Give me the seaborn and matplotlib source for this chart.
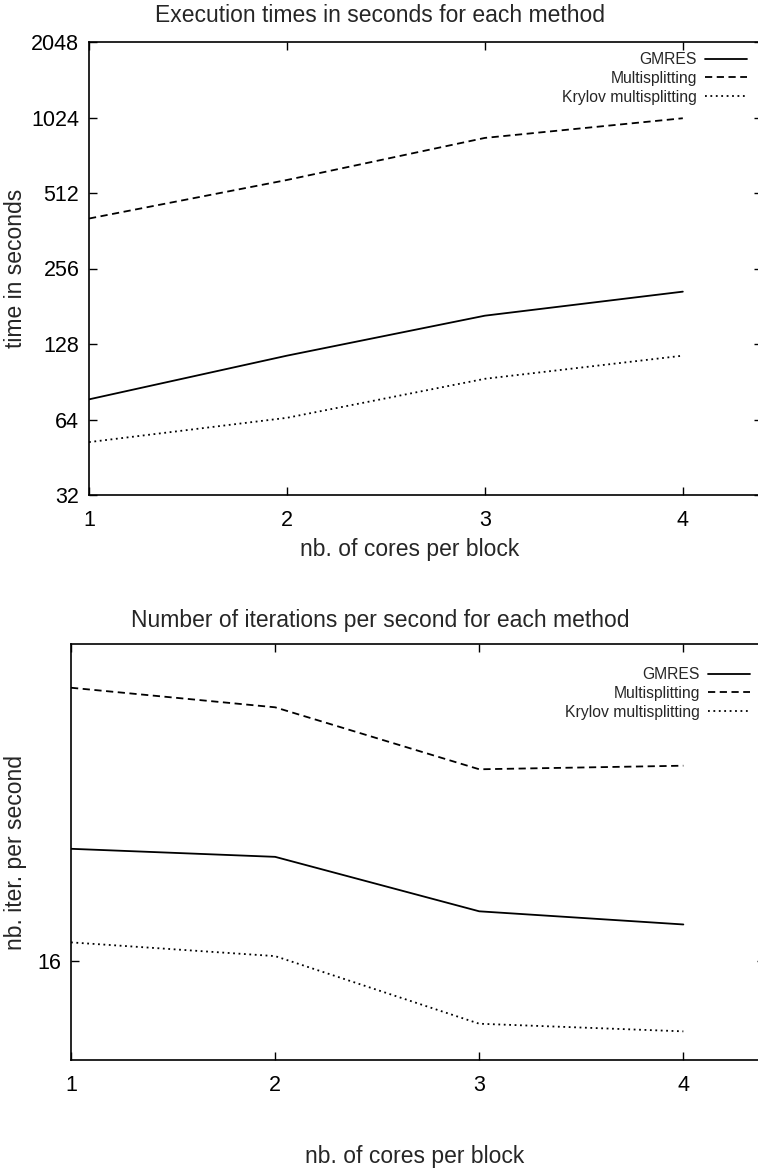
import matplotlib
matplotlib.use("Agg")
import matplotlib.pyplot as plt
import seaborn as sns
import pandas as pd
from matplotlib.ticker import FixedLocator, NullLocator
from matplotlib.lines import Line2D

cores = [1, 2, 3, 4]
methods = ["GMRES", "Multisplitting", "Krylov multisplitting"]

# Execution times (seconds)
time_gmres = [77, 115, 166, 207]
time_multi = [405, 577, 849, 1017]
time_krylov = [52, 65, 93, 115]

# Iterations per second
iter_gmres = [18.6, 18.4, 17.1, 16.8]
iter_multi = [23.1, 22.5, 20.7, 20.8]
iter_krylov = [16.4, 16.1, 14.7, 14.55]

time_ticks = [32, 64, 128, 256, 512, 1024, 2048]
iter_ticks = [16]

sns.set_style("ticks")
plt.rcParams["font.family"] = ["Liberation Sans", "DejaVu Sans"]

dashes = {"GMRES": "", "Multisplitting": (4, 2.5), "Krylov multisplitting": (1, 2)}

def make_df(a, b, c):
    rows = []
    for m, vals in zip(methods, [a, b, c]):
        for x, v in zip(cores, vals):
            rows.append({"cores": x, "value": v, "method": m})
    return pd.DataFrame(rows)

fig = plt.figure(figsize=(7.58, 11.70), dpi=100)
W, H = 758.0, 1170.0

def axes_px(left, right, top, bottom):
    return fig.add_axes([left / W, 1 - bottom / H, (right - left) / W, (bottom - top) / H])

ax1 = axes_px(89, 762, 42, 495)
ax2 = axes_px(71, 765, 644, 1060)

def style_ax(ax):
    for s in ax.spines.values():
        s.set_linewidth(1.2)
        s.set_color("black")
    ax.tick_params(direction="in", top=True, right=True, length=6, width=1,
                   labelsize=15.5, pad=7, colors="black")
    ax.tick_params(axis="x", pad=11)
    ax.set_facecolor("white")

def draw(ax, df, right_px, top_px):
    sns.lineplot(data=df, x="cores", y="value", style="method", style_order=methods,
                 dashes=dashes, color="black", linewidth=1.3, ax=ax, legend=False)
    handles = [Line2D([], [], color="black", linewidth=1.3,
                      linestyle="-" if dashes[m] == "" else (0, dashes[m])) for m in methods]
    ax.legend(handles, methods, loc="upper right", frameon=False, markerfirst=False,
              fontsize=11.3, handlelength=2.7, handletextpad=0.5, labelspacing=0.25,
              borderpad=0, borderaxespad=0,
              bbox_to_anchor=(right_px / W, 1 - top_px / H),
              bbox_transform=fig.transFigure)

df1 = make_df(time_gmres, time_multi, time_krylov)
draw(ax1, df1, 747, 52)
ax1.set_yscale("log", base=2)
ax1.set_ylim(32, 2048)
ax1.set_xlim(1, 4.4)
ax1.yaxis.set_major_locator(FixedLocator(time_ticks))
ax1.set_yticklabels([str(t) for t in time_ticks])
ax1.yaxis.set_minor_locator(NullLocator())
ax1.set_xticks(cores)
ax1.set_xticklabels([str(c) for c in cores])
ax1.set_xlabel("nb. of cores per block", fontsize=16.5)
ax1.set_ylabel("time in seconds", fontsize=16.5)
style_ax(ax1)

df2 = make_df(iter_gmres, iter_multi, iter_krylov)
draw(ax2, df2, 750, 667)
ax2.set_yscale("log", base=2)
ax2.set_ylim(14, 24.5)
ax2.set_xlim(1, 4.4)
ax2.yaxis.set_major_locator(FixedLocator(iter_ticks))
ax2.set_yticklabels([str(t) for t in iter_ticks])
ax2.yaxis.set_minor_locator(NullLocator())
ax2.set_xticks(cores)
ax2.set_xticklabels([str(c) for c in cores])
ax2.set_xlabel("nb. of cores per block", fontsize=16.5)
ax2.set_ylabel("nb. iter. per second", fontsize=16.5)
style_ax(ax2)

ax1.xaxis.set_label_coords((410 - 89) / (762 - 89), -(538 - 495) / (495 - 42))
ax1.yaxis.set_label_coords(-(89 - 27) / (762 - 89), 0.5)
ax2.xaxis.set_label_coords((415 - 71) / (765 - 71), -(1145 - 1060) / (1060 - 644))
ax2.yaxis.set_label_coords(-(71 - 27) / (765 - 71), 0.5)

fig.text(380 / W, 1 - 15 / H, "Execution times in seconds for each method",
         ha="center", va="center", fontsize=16.5)
fig.text(380 / W, 1 - 621 / H, "Number of iterations per second for each method",
         ha="center", va="center", fontsize=16.5)

fig.savefig("out.png", dpi=100, facecolor="white")
